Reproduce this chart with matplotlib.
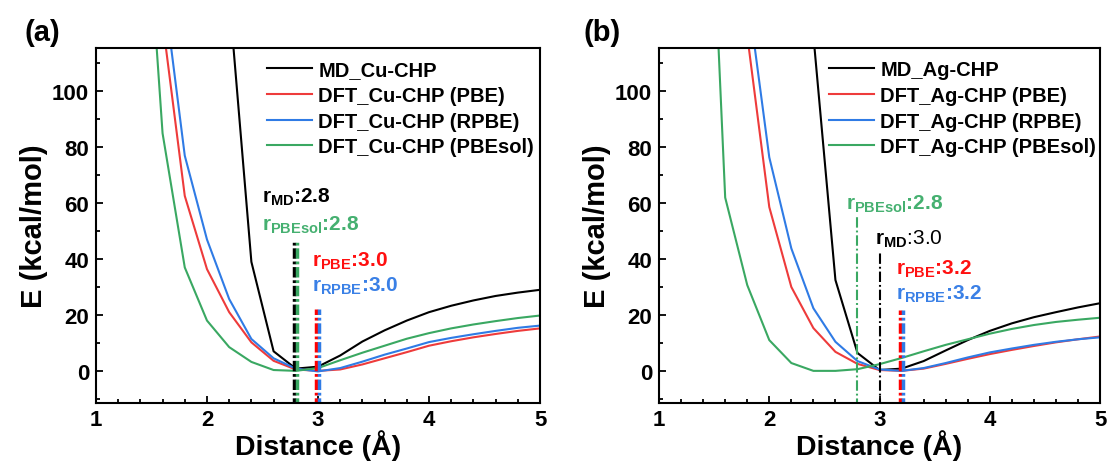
import numpy as np
import matplotlib
matplotlib.use("Agg")
import matplotlib.pyplot as plt
from matplotlib.ticker import MultipleLocator

plt.rcParams['font.family'] = ['Liberation Sans', 'DejaVu Sans']
plt.rcParams['font.weight'] = 'bold'
plt.rcParams['axes.labelweight'] = 'bold'
plt.rcParams['mathtext.fontset'] = 'custom'
plt.rcParams['mathtext.rm'] = 'Liberation Sans:bold'
plt.rcParams['mathtext.it'] = 'Liberation Sans:bold'
plt.rcParams['mathtext.bf'] = 'Liberation Sans:bold'
plt.rcParams['mathtext.sf'] = 'Liberation Sans'

# data (distance in Angstrom, energy in kcal/mol)
x_md_cu = [2.2, 2.4, 2.6, 2.8, 3.0, 3.2, 3.4, 3.6, 3.8, 4.0, 4.2, 4.4, 4.6, 4.8, 5.0]
md_cu = [134, 39, 7, 0.8, 1.5, 5.5, 10.5, 14.5, 18, 21, 23.3, 25.2, 26.8, 28, 29]
x_dft_cu = [1.6, 1.8, 2.0, 2.2, 2.4, 2.6, 2.8, 3.0, 3.2, 3.4, 3.6, 3.8, 4.0, 4.2, 4.4, 4.6, 4.8, 5.0]
pbe_cu = [125, 62.6, 36.4, 21, 10.2, 3.6, 0.5, 0, 0.5, 2.3, 4.5, 6.7, 9, 10.6, 12, 13.2, 14.3, 15.2]
rpbe_cu = [140, 77, 47, 25.7, 11.4, 4.5, 0.8, -0.2, 1, 3.3, 5.8, 8, 10.3, 11.8, 13.1, 14.3, 15.4, 16.2]
x_sol_cu = [1.4, 1.6, 1.8, 2.0, 2.2, 2.4, 2.6, 2.8, 3.0, 3.2, 3.4, 3.6, 3.8, 4.0, 4.2, 4.4, 4.6, 4.8, 5.0]
pbesol_cu = [200, 85, 37, 18, 8.5, 3.2, 0.3, 0, 1, 3.8, 6.5, 9, 11.5, 13.5, 15.2, 16.6, 17.8, 18.9, 19.8]

x_md_ag = [2.4, 2.6, 2.8, 3.0, 3.2, 3.4, 3.6, 3.8, 4.0, 4.2, 4.4, 4.6, 4.8, 5.0]
md_ag = [120, 32.5, 6.4, 0.3, 0.8, 3.5, 7.3, 11, 14.3, 17, 19.2, 21, 22.7, 24.2]
x_dft_ag = [1.6, 1.8, 2.0, 2.2, 2.4, 2.6, 2.8, 3.0, 3.2, 3.4, 3.6, 3.8, 4.0, 4.2, 4.4, 4.6, 4.8, 5.0]
pbe_ag = [250, 120, 58.6, 30, 15.3, 6.8, 2.5, 0.3, 0, 0.8, 2.5, 4.3, 6, 7.5, 8.9, 10.2, 11.3, 12.3]
rpbe_ag = [260, 136, 76.4, 43.8, 22.4, 10.4, 3.5, 0.5, 0, 1, 2.8, 4.8, 6.6, 8, 9.3, 10.4, 11.3, 12]
pbesol_ag = [240, 62, 30.7, 11, 2.8, 0, 0, 0.6, 2.4, 4.6, 7, 9.3, 11.3, 13.3, 15, 16.4, 17.5, 18.3, 19]

# equilibrium distances (drawn slightly apart where they coincide)
r_cu = {'MD': 2.8, 'PBEsol': 2.8, 'PBE': 3.0, 'RPBE': 3.0}
r_ag = {'MD': 3.0, 'PBEsol': 2.8, 'PBE': 3.2, 'RPBE': 3.2}

c_md = 'black'
c_pbe = '#ee3b3b'
c_rpbe = '#2f7be5'
c_sol = '#3aa862'
t_pbe = '#ff1010'
t_rpbe = '#3a80e6'
t_sol = '#45b070'

thick = (0, (3, 0.8, 0.8, 0.8))
thin = (0, (5, 1.4, 0.9, 1.4))

fig = plt.figure(figsize=(11.08, 4.64), dpi=100)
ax1 = fig.add_axes([0.0866, 0.1293, 0.4008, 0.765])
ax2 = fig.add_axes([0.5948, 0.1293, 0.398, 0.765])

def style(ax):
    ax.set_xlim(1, 5)
    ax.set_ylim(-11.5, 115.5)
    ax.xaxis.set_major_locator(MultipleLocator(1))
    ax.xaxis.set_minor_locator(MultipleLocator(0.2))
    ax.yaxis.set_major_locator(MultipleLocator(20))
    ax.yaxis.set_minor_locator(MultipleLocator(10))
    ax.tick_params(which='both', direction='in', width=1.3, labelsize=16)
    ax.tick_params(which='major', length=5)
    ax.tick_params(which='minor', length=3)
    ax.tick_params(axis='x', pad=4)
    ax.tick_params(axis='y', pad=5)
    for s in ax.spines.values():
        s.set_linewidth(1.5)
    ax.set_xlabel('Distance (Å)', fontsize=20.5, labelpad=0)
    ax.set_ylabel('E (kcal/mol)', fontsize=21, labelpad=3)
    ax.legend(loc='upper left', bbox_to_anchor=(0.386, 0.965), frameon=False,
              fontsize=14.5, handlelength=2.2, handletextpad=0.33,
              labelspacing=0.33, borderpad=0, borderaxespad=0)

# (a) Cu-CHP
ax1.plot(x_md_cu, md_cu, color=c_md, lw=1.5, label='MD_Cu-CHP')
ax1.plot(x_dft_cu, pbe_cu, color=c_pbe, lw=1.5, label='DFT_Cu-CHP (PBE)')
ax1.plot(x_dft_cu, rpbe_cu, color=c_rpbe, lw=1.5, label='DFT_Cu-CHP (RPBE)')
ax1.plot(x_sol_cu, pbesol_cu, color=c_sol, lw=1.5, label='DFT_Cu-CHP (PBEsol)')
ax1.vlines(r_cu['MD'] - 0.012, -20, 46, color=c_md, lw=2.5, linestyles=[thick])
ax1.vlines(r_cu['PBEsol'] + 0.014, -20, 46, color=c_sol, lw=2.5, linestyles=[thick])
ax1.vlines(r_cu['PBE'] - 0.018, -20, 22, color='red', lw=2.5, linestyles=[thick])
ax1.vlines(r_cu['RPBE'] + 0.008, -20, 22, color=c_rpbe, lw=2.5, linestyles=[thick])
ax1.text(2.496, 62.6, r'$r_{MD}$:%.1f' % r_cu['MD'], color=c_md, fontsize=15, va='center')
ax1.text(2.496, 52.5, r'$r_{PBEsol}$:%.1f' % r_cu['PBEsol'], color=t_sol, fontsize=15, va='center')
ax1.text(2.943, 39.4, r'$r_{PBE}$:%.1f' % r_cu['PBE'], color=t_pbe, fontsize=15, va='center')
ax1.text(2.943, 30.5, r'$r_{RPBE}$:%.1f' % r_cu['RPBE'], color=t_rpbe, fontsize=15, va='center')
style(ax1)

# (b) Ag-CHP
ax2.plot(x_md_ag, md_ag, color=c_md, lw=1.5, label='MD_Ag-CHP')
ax2.plot(x_dft_ag, pbe_ag, color=c_pbe, lw=1.5, label='DFT_Ag-CHP (PBE)')
ax2.plot(x_dft_ag, rpbe_ag, color=c_rpbe, lw=1.5, label='DFT_Ag-CHP (RPBE)')
ax2.plot(x_sol_cu, pbesol_ag, color=c_sol, lw=1.5, label='DFT_Ag-CHP (PBEsol)')
ax2.vlines(r_ag['PBEsol'], -20, 55, color=c_sol, lw=1.5, linestyles=[thin])
ax2.vlines(r_ag['MD'], -20, 42, color=c_md, lw=1.5, linestyles=[thin])
ax2.vlines(r_ag['PBE'] - 0.01, -20, 21.8, color='red', lw=2.5, linestyles=[thick])
ax2.vlines(r_ag['RPBE'] + 0.01, -20, 21.8, color=c_rpbe, lw=2.5, linestyles=[thick])
ax2.text(2.695, 59.8, r'$r_{PBEsol}$:%.1f' % r_ag['PBEsol'], color=t_sol, fontsize=15, va='center')
ax2.text(2.955, 47.3, r'$\mathsf{r_{MD}}$:%.1f' % r_ag['MD'], color=c_md, fontsize=15,
         va='center', fontweight='normal')
ax2.text(3.15, 36.6, r'$r_{PBE}$:%.1f' % r_ag['PBE'], color=t_pbe, fontsize=15, va='center')
ax2.text(3.15, 27.7, r'$r_{RPBE}$:%.1f' % r_ag['RPBE'], color=t_rpbe, fontsize=15, va='center')
style(ax2)

fig.text(0.022, 0.928, '(a)', fontsize=21, va='center')
fig.text(0.527, 0.928, '(b)', fontsize=21, va='center')

fig.savefig('out.png', dpi=100)
